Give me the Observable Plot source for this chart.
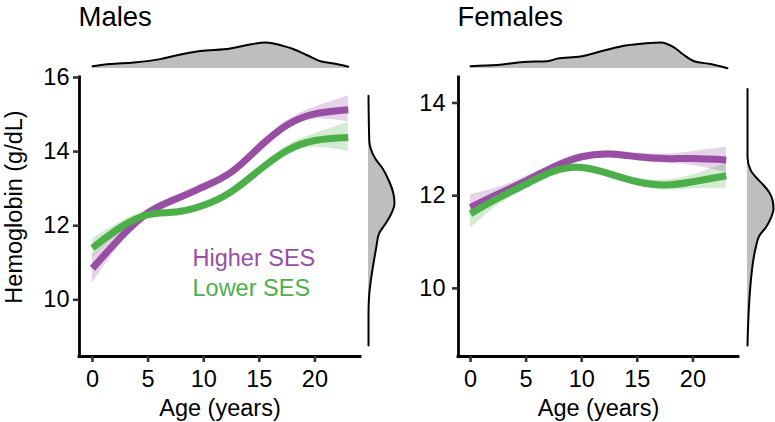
<!DOCTYPE html>
<html><head><meta charset="utf-8">
<script src="https://cdn.jsdelivr.net/npm/d3@7"></script>
<script src="https://cdn.jsdelivr.net/npm/@observablehq/plot@0.6"></script>
<style>
body{margin:0;background:#fff;}
#chart{position:relative;width:775px;height:422px;overflow:hidden;background:#fff;}
#chart svg{position:absolute;}
</style></head><body><div id="chart"></div>
<script>
// ---- data ----
const ages = [0, 2.5, 5, 7.5, 10, 12.5, 15, 17.5, 20, 23];
const xTicks = [0, 5, 10, 15, 20];

const maleHigher   = [10.85, 11.68, 12.35, 12.72, 13.05, 13.45, 14.12, 14.72, 15.02, 15.13];
const maleHigherLo = [10.45, 11.50, 12.25, 12.62, 12.95, 13.35, 14.02, 14.60, 14.87, 14.80];
const maleHigherHi = [11.20, 11.86, 12.45, 12.82, 13.15, 13.55, 14.22, 14.84, 15.20, 15.50];
const maleLower    = [11.40, 11.95, 12.30, 12.37, 12.55, 12.92, 13.50, 14.03, 14.30, 14.38];
const maleLowerLo  = [11.15, 11.80, 12.20, 12.28, 12.46, 12.82, 13.40, 13.90, 14.12, 14.00];
const maleLowerHi  = [11.65, 12.10, 12.40, 12.46, 12.64, 13.02, 13.60, 14.16, 14.48, 14.79];

const femaleHigher   = [11.75, 12.04, 12.32, 12.62, 12.84, 12.90, 12.84, 12.80, 12.80, 12.77];
const femaleHigherLo = [11.60, 11.94, 12.25, 12.55, 12.77, 12.83, 12.76, 12.70, 12.65, 12.50];
const femaleHigherHi = [12.02, 12.18, 12.42, 12.70, 12.91, 12.97, 12.92, 12.90, 12.95, 13.05];
const femaleLower    = [11.61, 11.95, 12.25, 12.53, 12.61, 12.47, 12.30, 12.23, 12.30, 12.43];
const femaleLowerLo  = [11.30, 11.80, 12.15, 12.45, 12.54, 12.40, 12.22, 12.12, 12.15, 12.16];
const femaleLowerHi  = [11.80, 12.06, 12.33, 12.60, 12.68, 12.55, 12.38, 12.34, 12.45, 12.70];

const maleAgeX = [0, 1.6, 3.7, 6.1, 7.6, 9.7, 12.4, 13.9, 15.6, 17.2, 18.1, 19.3, 20.5, 21.7, 23];
const maleAgeDensity = [0.09, 0.17, 0.23, 0.36, 0.51, 0.67, 0.77, 0.90, 1.0, 0.86, 0.74, 0.51, 0.28, 0.19, 0.07];
const femaleAgeX = [0, 2.4, 4.8, 6.9, 7.8, 9.9, 12.0, 14.1, 15.6, 17.1, 18.3, 19.2, 20.1, 21.6, 23.1];
const femaleAgeDensity = [0.09, 0.13, 0.25, 0.28, 0.38, 0.46, 0.69, 0.89, 0.96, 1.0, 0.81, 0.52, 0.28, 0.17, 0.01];

const maleHbY = [8.77, 9.62, 10.16, 10.52, 11.06, 11.42, 11.78, 12.05, 12.36, 12.59, 12.86, 13.22, 13.57, 13.80, 14.07, 14.29, 15.51];
const maleHbDensity = [0, 0, 0.03, 0.09, 0.21, 0.30, 0.40, 0.65, 0.90, 1.0, 0.96, 0.78, 0.52, 0.27, 0.09, 0.03, 0];
const femaleHbY = [8.77, 9.31, 9.74, 10.17, 10.60, 10.89, 11.14, 11.32, 11.53, 11.71, 11.89, 12.07, 12.25, 12.40, 12.54, 12.83, 14.30];
const femaleHbDensity = [0, 0.03, 0.07, 0.13, 0.22, 0.32, 0.46, 0.71, 0.91, 1.0, 0.97, 0.84, 0.58, 0.32, 0.13, 0, 0];

const seriesNames = ["Higher SES", "Lower SES"];
const titles = ["Males", "Females"];
const xLabel = "Age (years)";
const yLabel = "Hemoglobin (g/dL)";

// ---- styling ----
const PURPLE = "#984EA3", GREEN = "#4DAF4A", GREY = "#BEBEBE";
const FONT = '"Liberation Sans", Arial, Helvetica, sans-serif';
const chart = document.getElementById("chart");

function rows(mean, lo, hi) {
  return ages.map((a, i) => ({age: a, mean: mean[i], lo: lo[i], hi: hi[i]}));
}
function place(el, left, top) {
  el.style.left = left + "px";
  el.style.top = top + "px";
  el.style.background = "none";
  el.style.overflow = "visible";
  el.style.fontFamily = FONT;
  chart.appendChild(el);
}

function panel(cfg) {
  const hi = rows(...cfg.higher), lo = rows(...cfg.lower);
  const marks = [
    Plot.areaY(hi, {x: "age", y1: "lo", y2: "hi", fill: PURPLE, fillOpacity: 0.25, curve: "natural"}),
    Plot.areaY(lo, {x: "age", y1: "lo", y2: "hi", fill: GREEN, fillOpacity: 0.25, curve: "natural"}),
    Plot.line(hi, {x: "age", y: "mean", stroke: PURPLE, strokeWidth: 7, curve: "natural", strokeLinecap: "butt"}),
    Plot.line(lo, {x: "age", y: "mean", stroke: GREEN, strokeWidth: 7, curve: "natural", strokeLinecap: "butt"}),
    Plot.ruleX([cfg.xDomain[0]], {stroke: "black", strokeWidth: 2.8, strokeLinecap: "square"}),
    Plot.ruleY([cfg.yDomain[0]], {stroke: "black", strokeWidth: 2.8, strokeLinecap: "square"}),
    Plot.axisX({ticks: xTicks, tickFormat: "d", tickSize: 6, tickPadding: 8, stroke: "#333", strokeWidth: 2.6, fill: "black", fontSize: 23.5, label: null}),
    Plot.axisY({ticks: cfg.yTicks, tickFormat: "d", tickSize: 6, tickPadding: cfg.yPad, stroke: "#333", strokeWidth: 2.6, fill: "black", fontSize: 23.5, label: null}),
    Plot.text([xLabel], {text: d => d, frameAnchor: "bottom", textAnchor: "middle", lineAnchor: "bottom", dy: 59, fontSize: 23.5, fill: "black"}),
    Plot.text([cfg.title], {text: d => d, frameAnchor: "top-left", textAnchor: "start", lineAnchor: "bottom", dx: -1, dy: -52, fontSize: 27.5, fill: "black"})
  ];
  if (cfg.showYLabel) {
    marks.push(Plot.text([yLabel], {text: d => d, frameAnchor: "left", textAnchor: "middle", lineAnchor: "middle", rotate: -90, dx: -65, dy: -10, fontSize: 23.5, fill: "black"}));
  }
  if (cfg.legend) {
    marks.push(Plot.text([seriesNames[0]], {text: d => d, frameAnchor: "top-left", textAnchor: "start", lineAnchor: "bottom", dx: 113, dy: 188.5, fontSize: 23.5, fill: PURPLE}));
    marks.push(Plot.text([seriesNames[1]], {text: d => d, frameAnchor: "top-left", textAnchor: "start", lineAnchor: "bottom", dx: 113, dy: 218.5, fontSize: 23.5, fill: GREEN}));
  }
  const main = Plot.plot({
    width: cfg.width, height: 422,
    marginLeft: cfg.mLeft, marginRight: cfg.mRight, marginTop: 77, marginBottom: 66,
    x: {domain: cfg.xDomain}, y: {domain: cfg.yDomain},
    marks
  });
  place(main, cfg.left, 0);

  const ageRows = cfg.ageX.map((a, i) => ({age: a, d: cfg.ageD[i]}));
  const top = Plot.plot({
    width: cfg.width, height: 33,
    marginLeft: cfg.mLeft, marginRight: cfg.mRight, marginTop: 5, marginBottom: 2,
    x: {domain: cfg.xDomain, axis: null}, y: {domain: [0, 1], axis: null},
    marks: [
      Plot.areaY(ageRows, {x: "age", y: "d", fill: GREY, curve: "monotone-x"}),
      Plot.line(ageRows, {x: "age", y: "d", stroke: "black", strokeWidth: 2, curve: "monotone-x"})
    ]
  });
  place(top, cfg.left, 37);

  const hbRows = cfg.hbY.map((v, i) => ({hb: v, d: cfg.hbD[i]}));
  const right = Plot.plot({
    width: cfg.rWidth, height: 422,
    marginLeft: 2, marginRight: cfg.rWidth - 28, marginTop: 77, marginBottom: 66,
    x: {domain: [0, 1], axis: null}, y: {domain: cfg.yDomain, axis: null},
    marks: [
      Plot.areaX(hbRows, {y: "hb", x: "d", fill: GREY, curve: "monotone-y"}),
      Plot.line(hbRows, {x: "d", y: "hb", stroke: "black", strokeWidth: 2, curve: "monotone-y"})
    ]
  });
  place(right, cfg.rLeft, 0);
}

panel({
  title: titles[0], left: 0, width: 390, mLeft: 79, mRight: 30,
  xDomain: [-1.17, 24.1], yDomain: [8.47, 16.0], yTicks: [10, 12, 14, 16], yPad: 4,
  higher: [maleHigher, maleHigherLo, maleHigherHi], lower: [maleLower, maleLowerLo, maleLowerHi],
  ageX: maleAgeX, ageD: maleAgeDensity, hbY: maleHbY, hbD: maleHbDensity,
  rLeft: 366, rWidth: 32, showYLabel: true, legend: true
});
panel({
  title: titles[1], left: 380, width: 395, mLeft: 78, mRight: 37,
  xDomain: [-1.08, 24.1], yDomain: [8.53, 14.55], yTicks: [10, 12, 14], yPad: 7,
  higher: [femaleHigher, femaleHigherLo, femaleHigherHi], lower: [femaleLower, femaleLowerLo, femaleLowerHi],
  ageX: femaleAgeX, ageD: femaleAgeDensity, hbY: femaleHbY, hbD: femaleHbDensity,
  rLeft: 745, rWidth: 30, showYLabel: false, legend: false
});
</script></body></html>
